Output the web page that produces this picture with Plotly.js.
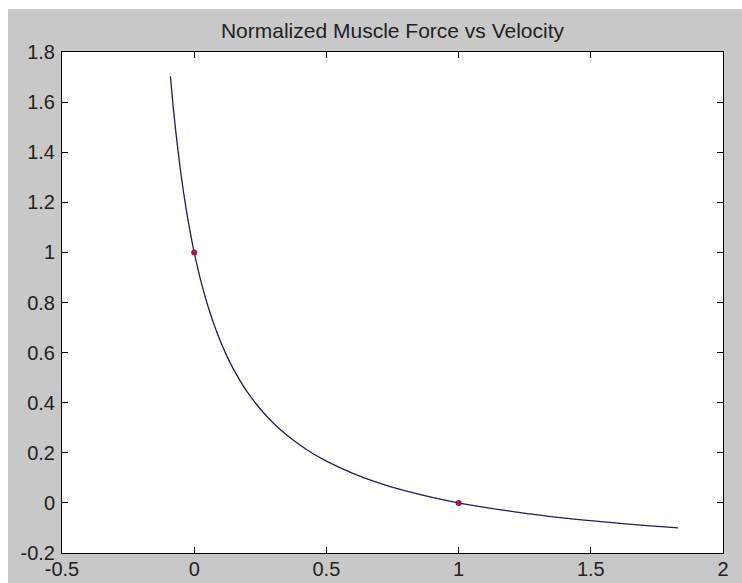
<!DOCTYPE html>
<html>
<head>
<meta charset="utf-8">
<script src="https://cdn.plot.ly/plotly-3.0.1.min.js"></script>
<style>
html,body{margin:0;padding:0;background:#ffffff;}
#chart{position:absolute;left:8px;top:9px;width:734px;height:574px;}
</style>
</head>
<body>
<div id="chart"></div>
<script>
// Force-velocity curve
var velocity = [-0.09, -0.08, -0.07, -0.06, -0.05, -0.04, -0.03, -0.02, -0.01, 0.0,
  0.025, 0.05, 0.075, 0.1, 0.125, 0.15, 0.2, 0.25, 0.3, 0.35, 0.4, 0.45, 0.5,
  0.6, 0.7, 0.8, 0.9, 1.0, 1.1, 1.2, 1.3, 1.4, 1.5, 1.6, 1.7, 1.83];
var force = [1.703, 1.588, 1.485, 1.395, 1.312, 1.238, 1.170, 1.109, 1.052, 1.0,
  0.886, 0.792, 0.712, 0.643, 0.583, 0.531, 0.444, 0.375, 0.318, 0.271, 0.231, 0.196, 0.167,
  0.118, 0.079, 0.048, 0.022, 0.0, -0.018, -0.034, -0.048, -0.061, -0.071, -0.081, -0.090, -0.100];
var markerV = [0, 1];
var markerF = [1, 0];
var xTicks = [-0.5, 0, 0.5, 1, 1.5, 2];
var xTickText = ['-0.5', '0', '0.5', '1', '1.5', '2'];
var yTicks = [-0.2, 0, 0.2, 0.4, 0.6, 0.8, 1, 1.2, 1.4, 1.6, 1.8];
var yTickText = ['-0.2', '0', '0.2', '0.4', '0.6', '0.8', '1', '1.2', '1.4', '1.6', '1.8'];
var titleText = 'Normalized Muscle Force vs Velocity';

var fontFam = '"Liberation Sans", Arial, sans-serif';

var traces = [
  {x: velocity, y: force, type: 'scatter', mode: 'lines',
   line: {color: '#1e1e5a', width: 1.3, shape: 'spline'}, hoverinfo: 'skip'},
  {x: markerV, y: markerF, type: 'scatter', mode: 'markers',
   marker: {color: '#a01848', size: 6}, hoverinfo: 'skip'}
];

var axisCommon = {
  showgrid: false, zeroline: false, showline: true, linecolor: '#000000', linewidth: 1,
  mirror: 'ticks', ticks: 'inside', ticklen: 6, tickcolor: '#000000', tickwidth: 1,
  tickfont: {family: fontFam, size: 20, color: '#222222'}, tickmode: 'array'
};

var layout = {
  width: 734, height: 574,
  paper_bgcolor: '#c8c8c8', plot_bgcolor: '#ffffff',
  margin: {l: 54, r: 19, t: 43, b: 30},
  showlegend: false,
  title: {text: titleText, font: {family: fontFam, size: 21, color: '#222222'},
          x: 0.5, xref: 'paper', xanchor: 'center', y: 0.962, yanchor: 'middle'},
  xaxis: Object.assign({}, axisCommon, {range: [-0.5, 2], tickvals: xTicks, ticktext: xTickText, ticklabelstandoff: -2}),
  yaxis: Object.assign({}, axisCommon, {range: [-0.2, 1.8], tickvals: yTicks, ticktext: yTickText, ticklabelstandoff: 2})
};

Plotly.newPlot('chart', traces, layout, {displayModeBar: false, staticPlot: true});
</script>
</body>
</html>
